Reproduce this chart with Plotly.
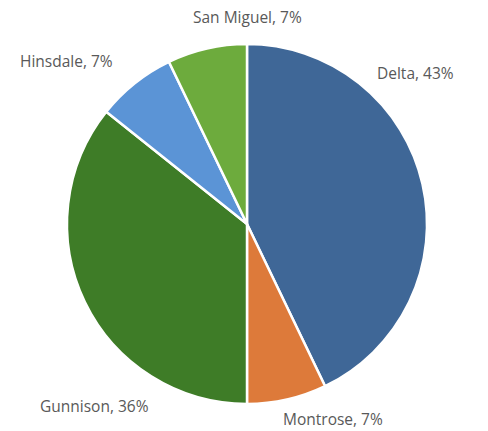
import plotly.graph_objects as go

counties = ["Delta", "Montrose", "Gunnison", "Hinsdale", "San Miguel"]
counts = [6, 1, 5, 1, 1]
colors = ["#3F6797", "#DD7A3A", "#3E7C27", "#5B94D6", "#6DAB3D"]

# label anchor positions (pixels in 488x431 canvas)
label_px = {
    "Delta": (415, 73),
    "Montrose": (333, 419),
    "Gunnison": (94, 406),
    "Hinsdale": (66, 61),
    "San Miguel": (247, 17),
}

W, H = 488, 431
total = sum(counts)

fig = go.Figure(go.Pie(
    labels=counties,
    values=counts,
    sort=False,
    direction="clockwise",
    rotation=0,
    marker=dict(colors=colors, line=dict(color="white", width=2.5)),
    textinfo="none",
    hoverinfo="label+percent",
    domain=dict(x=[67 / W, 427 / W], y=[1 - 404 / H, 1 - 44 / H]),
    showlegend=False,
))

annotations = []
for name, c in zip(counties, counts):
    px, py = label_px[name]
    annotations.append(dict(
        x=px / W, y=1 - py / H, xref="paper", yref="paper",
        text=f"{name}, {round(100 * c / total)}%",
        showarrow=False, xanchor="center", yanchor="middle",
        font=dict(family="Open Sans", size=15.5, color="#595959"),
    ))

fig.update_layout(
    width=W, height=H,
    margin=dict(l=0, r=0, t=0, b=0),
    paper_bgcolor="white",
    plot_bgcolor="white",
    annotations=annotations,
)

fig.write_html("out.html")
